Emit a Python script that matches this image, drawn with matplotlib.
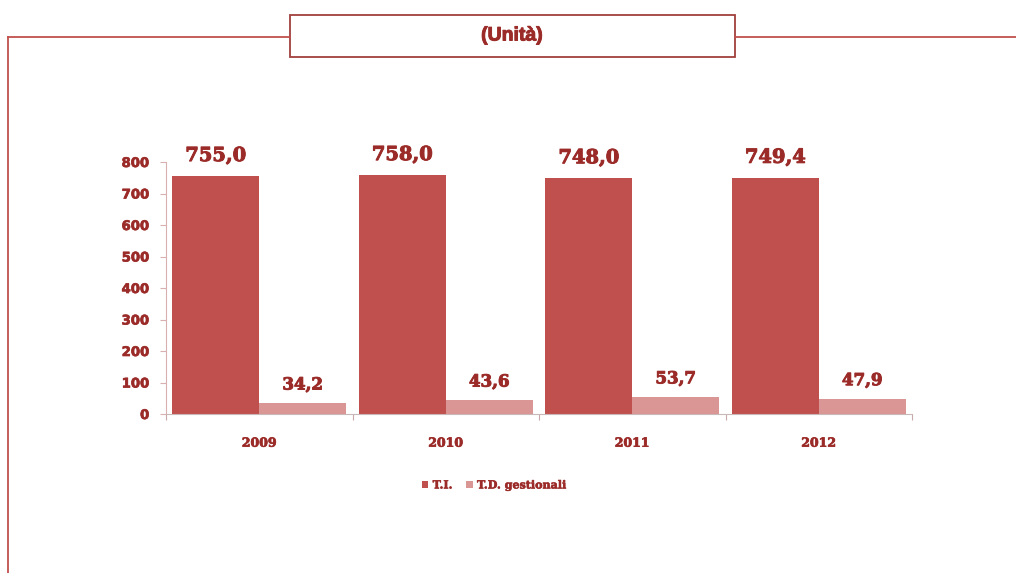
import matplotlib.pyplot as plt
import matplotlib.patheffects as pe
import numpy as np
from matplotlib.patches import Rectangle
from matplotlib.lines import Line2D

anni = ["2009", "2010", "2011", "2012"]
ti = [755.0, 758.0, 748.0, 749.4]
td_gestionali = [34.2, 43.6, 53.7, 47.9]
serie = ["T.I.", "T.D. gestionali"]
titolo = "(Unità)"

rosso = "#C0504D"
rosa = "#D99694"
testo = "#9B2B28"
spesso = [pe.withStroke(linewidth=0.7, foreground=testo)]

fig = plt.figure(figsize=(10.16, 5.73), dpi=100)

# cornice con titolo
fig.add_artist(Line2D([8 / 1016, 8 / 1016], [0, 1 - 37 / 573], color=rosso, lw=1.3))
fig.add_artist(Line2D([8 / 1016, 290 / 1016], [1 - 37 / 573] * 2, color=rosso, lw=1.3))
fig.add_artist(Line2D([735 / 1016, 1], [1 - 37 / 573] * 2, color=rosso, lw=1.3))
fig.add_artist(Rectangle((290 / 1016, 1 - 57 / 573), 445 / 1016, 42 / 573,
                         transform=fig.transFigure, facecolor="white",
                         edgecolor="#A0403D", lw=1.3))
fig.text(512 / 1016, 1 - 36 / 573, titolo, ha="center", va="center",
         fontsize=14, fontweight="bold", color=testo, family="Liberation Sans",
         path_effects=spesso)

ax = fig.add_axes([166 / 1016, 1 - 414 / 573, 746 / 1016, 252 / 573])
x = np.arange(len(anni))
w = 0.466
b1 = ax.bar(x - w / 2, ti, w, color=rosso, label=serie[0])
b2 = ax.bar(x + w / 2, td_gestionali, w, color=rosa, label=serie[1])

for bars, vals, fs, off in [(b1, ti, 14, 8), (b2, td_gestionali, 12, 7)]:
    for r, v in zip(bars, vals):
        ax.annotate(f"{v:.1f}".replace(".", ","),
                    (r.get_x() + r.get_width() / 2, v), xytext=(0, off),
                    textcoords="offset points", ha="center", va="bottom",
                    fontsize=fs, fontweight="bold", color=testo,
                    family="DejaVu Serif", path_effects=spesso)

ax.set_xlim(-0.5, 3.5)
ax.set_ylim(0, 800)
ax.set_yticks(range(0, 801, 100))
ax.set_yticklabels([str(v) for v in range(0, 801, 100)], fontsize=9.5,
                   fontweight="bold", color=testo)
for t in ax.get_yticklabels():
    t.set_path_effects([pe.withStroke(linewidth=0.5, foreground=testo)])
ax.set_xticks([-0.5, 0.5, 1.5, 2.5, 3.5])
ax.set_xticklabels([])
ax.tick_params(axis="x", length=4, color="#C8A8A8")
ax.tick_params(axis="y", length=4, color="#D8B0B0", pad=8)
for i, a in enumerate(anni):
    ax.annotate(a, (i, 0), xytext=(0, -21), textcoords="offset points",
                ha="center", va="center", fontsize=9,
                fontweight="bold", color=testo, family="DejaVu Serif",
                path_effects=[pe.withStroke(linewidth=0.5, foreground=testo)])

for s in ["top", "right"]:
    ax.spines[s].set_visible(False)
ax.spines["left"].set_color("#D8B0B0")
ax.spines["bottom"].set_color("#C8B8B8")

leg = ax.legend(loc="upper center", bbox_to_anchor=(0.44, -0.22), ncol=2,
                frameon=False, handlelength=0.6, handleheight=0.6,
                handletextpad=0.4, columnspacing=1.2,
                prop={"family": "DejaVu Serif", "weight": "bold", "size": 8},
                labelcolor=testo)
for t in leg.get_texts():
    t.set_path_effects([pe.withStroke(linewidth=0.4, foreground=testo)])

fig.savefig("out.png", dpi=100)
